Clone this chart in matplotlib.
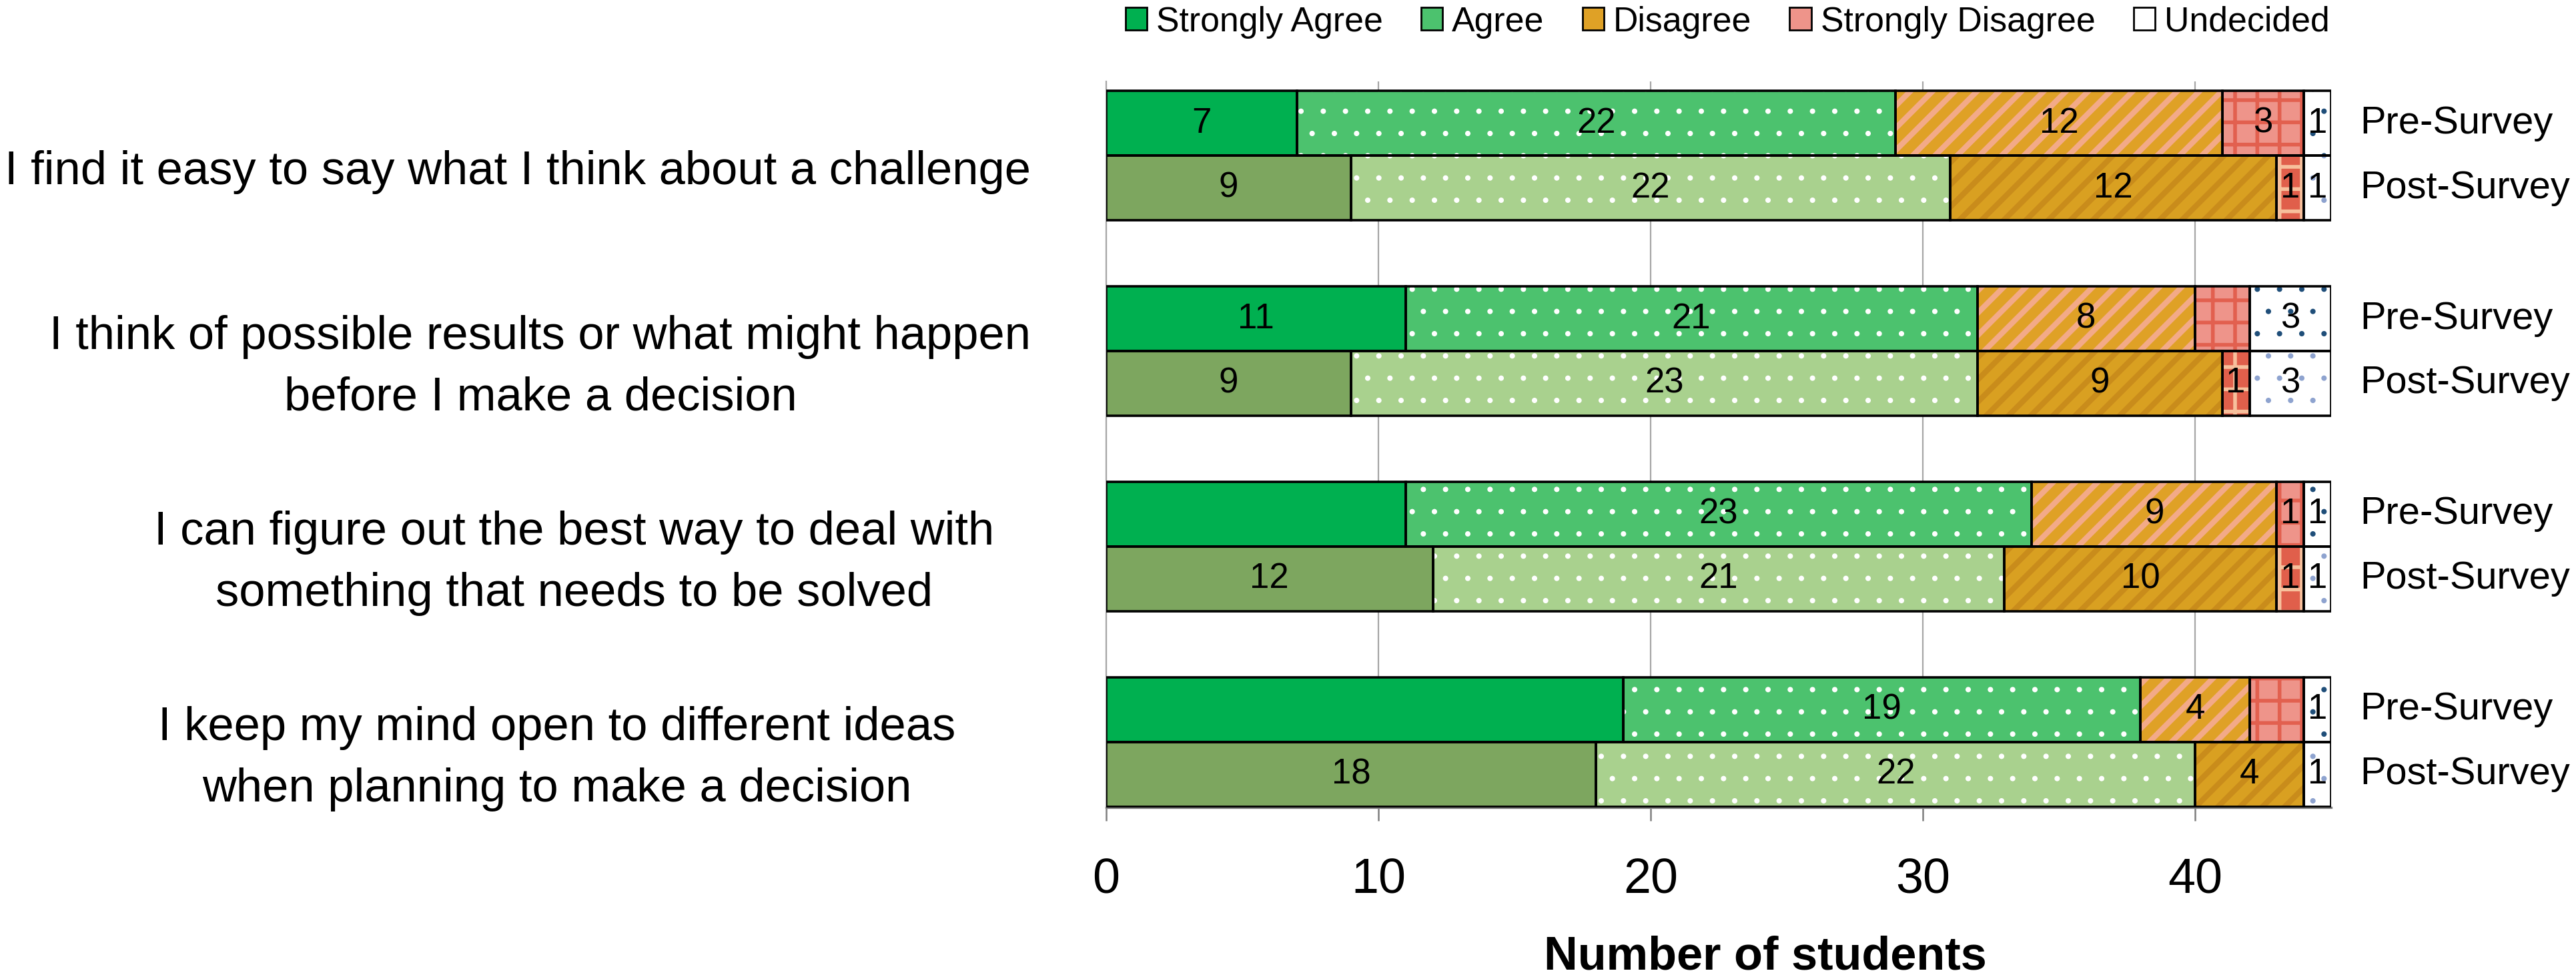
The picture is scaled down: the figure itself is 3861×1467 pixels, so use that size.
import numpy as np
import matplotlib
matplotlib.use("Agg")
import matplotlib.pyplot as plt
from matplotlib.patches import Patch

plt.rcParams['font.family'] = ['Liberation Sans', 'DejaVu Sans']

# Daten
questions = [
    "I find it easy to say what I think about a challenge",
    "I think of possible results or what might happen\nbefore I make a decision",
    "I can figure out the best way to deal with\nsomething that needs to be solved",
    "I keep my mind open to different ideas\nwhen planning to make a decision",
]
categories = ["Strongly Agree", "Agree", "Disagree", "Strongly Disagree", "Undecided"]
surveys = ["Pre-Survey", "Post-Survey"]
pre_counts = [
    [7, 22, 12, 3, 1],
    [11, 21, 8, 2, 3],
    [11, 23, 9, 1, 1],
    [19, 19, 4, 2, 1],
]
post_counts = [
    [9, 22, 12, 1, 1],
    [9, 23, 9, 1, 3],
    [12, 21, 10, 1, 1],
    [18, 22, 4, 0, 1],
]
x_ticks = [0, 10, 20, 30, 40]

# Segmente ohne Beschriftung im Original: (Frage, Umfrage, Kategorie)
unlabeled = [(1, "Pre-Survey", "Strongly Disagree"),
             (2, "Pre-Survey", "Strongly Agree"),
             (3, "Pre-Survey", "Strongly Agree"),
             (3, "Pre-Survey", "Strongly Disagree")]

# Stil je Kategorie: Fuellfarbe, Schraffur, Schraffurfarbe, Schraffur-Linienbreite
pre_style = [
    ("#00b050", None, None, 0),
    ("#4cc26e", ".", "white", 0.5),
    ("#dfa126", "//", "#f3aa88", 3.0),
    ("#ee948a", "+", "#e2604f", 2.0),
    ("white", ".", "#1f4e79", 0.5),
]
post_style = [
    ("#7da65f", None, None, 0),
    ("#a9d18e", ".", "white", 0.5),
    ("#d9a021", "//", "#c98c1b", 3.0),
    ("#e05f4b", "+", "#f7c09c", 2.0),
    ("white", ".", "#8ea3cf", 0.5),
]

fig, ax = plt.subplots(figsize=(19.31, 7.335), dpi=200)
fig.subplots_adjust(left=0.4293, right=0.9047, bottom=0.1752, top=0.9168)

h = 0.331
ypos = np.arange(len(questions))

for survey, counts, styles, offset in [("Pre-Survey", pre_counts, pre_style, -h / 2),
                                       ("Post-Survey", post_counts, post_style, h / 2)]:
    counts = np.array(counts)
    lefts = np.cumsum(counts, axis=1) - counts
    y = ypos + offset
    for k, cat in enumerate(categories):
        fill, hatch, hcol, hlw = styles[k]
        ax.barh(y, counts[:, k], left=lefts[:, k], height=h, color=fill,
                linewidth=0, zorder=2)
        if hatch:
            with plt.rc_context({'hatch.linewidth': hlw}):
                bars = ax.barh(y, counts[:, k], left=lefts[:, k], height=h,
                               facecolor='none', edgecolor=hcol, hatch=hatch,
                               linewidth=0, zorder=3)
            for b in bars:
                if hasattr(b, 'set_hatch_linewidth'):
                    b.set_hatch_linewidth(hlw)
        ax.barh(y, counts[:, k], left=lefts[:, k], height=h, facecolor='none',
                edgecolor='black', linewidth=1.3, zorder=4)
        for i in range(len(questions)):
            v = counts[i, k]
            if v == 0 or (i, survey, cat) in unlabeled:
                continue
            ax.text(lefts[i, k] + v / 2, y[i], str(v), ha='center', va='center',
                    fontsize=19, zorder=5)
    for i in range(len(questions)):
        ax.text(1.0234, y[i], survey, transform=ax.get_yaxis_transform(),
                ha='left', va='center', fontsize=20.8)

# Fragen links (Mitte der Textbloecke in Achsenbruchteilen)
label_x = [-0.4804, -0.4619, -0.4341, -0.4483]
for i, q in enumerate(questions):
    ax.text(label_x[i], ypos[i] + 0.085, q, transform=ax.get_yaxis_transform(),
            ha='center', va='center', multialignment='center', fontsize=25.4,
            linespacing=1.5)

ax.set_xlim(0, 45)
ax.set_ylim(3.335, -0.379)
ax.set_xticks(x_ticks)
ax.set_yticks([])
ax.tick_params(axis='x', length=7.2, width=0.9, color='#7f7f7f', pad=19.5,
               labelsize=26.5)
ax.tick_params(axis='y', left=False)
ax.set_axisbelow(True)
ax.grid(axis='x', color='#a6a6a6', linewidth=0.8)
for s in ['top', 'right']:
    ax.spines[s].set_visible(False)
ax.spines['left'].set_color('#a6a6a6')
ax.spines['left'].set_linewidth(0.8)
ax.spines['bottom'].set_color('#7f7f7f')
ax.spines['bottom'].set_linewidth(1.2)

ax.set_xlabel("Number of students", fontsize=25.3, fontweight='bold')
ax.xaxis.set_label_coords(0.538, -0.176)

handles = [Patch(facecolor=st[0], edgecolor='black', linewidth=1.0) for st in pre_style]
fig.legend(handles, categories, loc='center', bbox_to_anchor=(0.6704, 0.9775),
           bbox_transform=fig.transFigure, ncol=5, frameon=False, fontsize=18.7,
           handlelength=0.62, handleheight=0.62, handletextpad=0.27,
           columnspacing=1.1, borderpad=0, borderaxespad=0)

fig.savefig("out.png", dpi=200)
